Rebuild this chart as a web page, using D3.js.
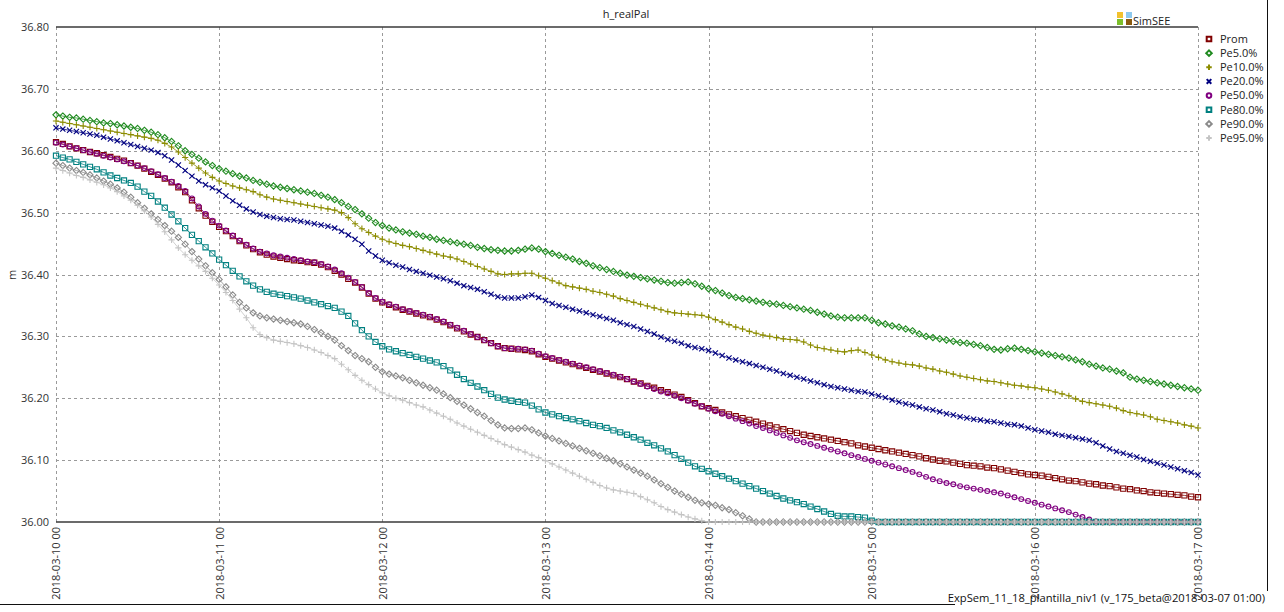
<!DOCTYPE html>
<html><head><meta charset="utf-8">
<script src="https://cdn.jsdelivr.net/npm/d3@7"></script>
<style>
body{margin:0;background:#fff;}
svg{display:block;font-family:"Open Sans","Liberation Sans",sans-serif;}
</style>
</head><body><svg id="c" width="1284" height="612"></svg>
<script>
const chartTitle = "h_realPal";
const yAxisLabel = "m";
const footerText = "ExpSem_11_18_plantilla_niv1 (v_175_beta@2018-03-07 01:00)";
const logoText = "SimSEE";
const startTime = "2018-03-10 00";
const xTickLabels = ["2018-03-10 00","2018-03-11 00","2018-03-12 00","2018-03-13 00","2018-03-14 00","2018-03-15 00","2018-03-16 00","2018-03-17 00"];
const yTickValues = [36.00,36.10,36.20,36.30,36.40,36.50,36.60,36.70,36.80];
const seriesNames = ["Prom","Pe5.0%","Pe10.0%","Pe20.0%","Pe50.0%","Pe80.0%","Pe90.0%","Pe95.0%"];
const seriesColors = ["#800000","#1f8a1f","#8c8c00","#000080","#800080","#008080","#8a8a8a","#c4c4c4"];
const seriesMarkers = ["square","diamond","plus","x","circle","square","diamond","plus"];

// hourly values (m), 2018-03-10 00 .. 2018-03-17 00
const prom = [
36.614,36.611,36.607,36.604,36.601,36.598,36.596,36.593,36.590,36.587,
36.584,36.580,36.576,36.571,36.566,36.561,36.555,36.549,36.541,36.533,
36.520,36.507,36.495,36.485,36.477,36.470,36.462,36.454,36.447,36.441,
36.436,36.432,36.429,36.427,36.425,36.423,36.422,36.420,36.419,36.416,
36.412,36.406,36.400,36.393,36.387,36.379,36.369,36.361,36.355,36.351,
36.347,36.343,36.340,36.337,36.334,36.331,36.327,36.323,36.318,36.313,
36.308,36.303,36.299,36.294,36.289,36.284,36.281,36.280,36.279,36.278,
36.276,36.271,36.267,36.264,36.261,36.258,36.255,36.252,36.249,36.246,
36.243,36.240,36.237,36.234,36.231,36.227,36.224,36.220,36.217,36.213,
36.210,36.206,36.202,36.197,36.192,36.187,36.184,36.181,36.177,36.174,
36.171,36.168,36.165,36.162,36.159,36.156,36.153,36.150,36.147,36.144,
36.141,36.139,36.137,36.135,36.133,36.131,36.129,36.127,36.124,36.122,
36.120,36.118,36.116,36.114,36.112,36.110,36.108,36.106,36.103,36.101,
36.099,36.098,36.096,36.094,36.092,36.091,36.090,36.088,36.087,36.085,
36.083,36.081,36.079,36.077,36.076,36.075,36.073,36.071,36.069,36.067,
36.066,36.064,36.062,36.061,36.059,36.058,36.056,36.054,36.053,36.051,
36.050,36.048,36.047,36.046,36.045,36.044,36.043,36.041,36.040];
const pe5 = [
36.658,36.656,36.654,36.653,36.651,36.649,36.647,36.645,36.644,36.642,
36.640,36.638,36.636,36.633,36.630,36.626,36.621,36.615,36.608,36.600,
36.594,36.588,36.582,36.576,36.571,36.567,36.563,36.559,36.556,36.552,
36.549,36.546,36.543,36.541,36.539,36.537,36.535,36.533,36.531,36.528,
36.525,36.521,36.516,36.510,36.505,36.498,36.491,36.484,36.479,36.475,
36.472,36.469,36.467,36.465,36.462,36.460,36.457,36.455,36.453,36.451,
36.449,36.447,36.444,36.442,36.440,36.439,36.438,36.438,36.439,36.441,
36.443,36.441,36.437,36.434,36.431,36.428,36.425,36.421,36.418,36.414,
36.411,36.408,36.405,36.402,36.399,36.397,36.395,36.393,36.391,36.389,
36.387,36.386,36.387,36.388,36.385,36.381,36.377,36.374,36.370,36.366,
36.363,36.361,36.359,36.357,36.355,36.353,36.352,36.350,36.348,36.346,
36.344,36.342,36.339,36.336,36.333,36.331,36.330,36.330,36.330,36.330,
36.326,36.322,36.320,36.317,36.315,36.312,36.309,36.304,36.300,36.298,
36.296,36.294,36.292,36.290,36.289,36.287,36.285,36.282,36.279,36.278,
36.280,36.281,36.279,36.277,36.275,36.273,36.271,36.269,36.267,36.265,
36.262,36.259,36.255,36.252,36.249,36.247,36.244,36.241,36.234,36.231,
36.229,36.227,36.225,36.223,36.221,36.219,36.217,36.215,36.213];
const pe10 = [
36.648,36.646,36.644,36.642,36.640,36.638,36.636,36.634,36.632,36.630,
36.628,36.626,36.624,36.622,36.620,36.617,36.612,36.606,36.598,36.589,
36.580,36.572,36.564,36.557,36.551,36.547,36.543,36.540,36.537,36.534,
36.529,36.525,36.522,36.520,36.518,36.516,36.514,36.512,36.510,36.508,
36.506,36.504,36.500,36.492,36.482,36.474,36.468,36.462,36.457,36.453,
36.450,36.447,36.445,36.442,36.439,36.436,36.433,36.430,36.428,36.425,
36.421,36.417,36.413,36.409,36.405,36.401,36.400,36.401,36.401,36.402,
36.402,36.398,36.394,36.390,36.386,36.382,36.380,36.378,36.376,36.373,
36.371,36.368,36.365,36.361,36.358,36.355,36.352,36.349,36.346,36.343,
36.340,36.338,36.337,36.336,36.335,36.334,36.331,36.327,36.323,36.319,
36.315,36.312,36.308,36.305,36.302,36.300,36.298,36.296,36.295,36.294,
36.291,36.286,36.282,36.280,36.278,36.276,36.275,36.277,36.278,36.274,
36.270,36.266,36.262,36.259,36.257,36.255,36.254,36.252,36.249,36.247,
36.244,36.242,36.239,36.236,36.234,36.232,36.230,36.228,36.227,36.225,
36.223,36.221,36.220,36.218,36.217,36.215,36.213,36.210,36.207,36.204,
36.199,36.195,36.193,36.191,36.189,36.187,36.184,36.180,36.177,36.175,
36.173,36.170,36.166,36.164,36.162,36.160,36.157,36.155,36.152];
const pe20 = [
36.637,36.635,36.633,36.631,36.629,36.627,36.625,36.622,36.619,36.616,
36.613,36.610,36.607,36.604,36.601,36.597,36.592,36.585,36.577,36.568,
36.559,36.551,36.545,36.540,36.535,36.527,36.519,36.512,36.506,36.501,
36.497,36.494,36.492,36.490,36.489,36.488,36.486,36.484,36.482,36.480,
36.478,36.475,36.470,36.464,36.457,36.449,36.438,36.430,36.423,36.419,
36.415,36.412,36.408,36.405,36.402,36.399,36.396,36.393,36.390,36.386,
36.382,36.379,36.376,36.372,36.368,36.364,36.362,36.362,36.362,36.364,
36.367,36.363,36.358,36.353,36.350,36.347,36.344,36.341,36.338,36.335,
36.332,36.329,36.326,36.322,36.319,36.316,36.312,36.308,36.304,36.299,
36.295,36.292,36.289,36.285,36.282,36.280,36.277,36.273,36.269,36.265,
36.262,36.259,36.256,36.253,36.250,36.247,36.244,36.240,36.237,36.234,
36.231,36.228,36.225,36.222,36.219,36.217,36.215,36.213,36.211,36.210,
36.207,36.204,36.201,36.197,36.194,36.191,36.189,36.186,36.183,36.181,
36.178,36.175,36.173,36.170,36.168,36.166,36.165,36.163,36.162,36.160,
36.158,36.157,36.155,36.152,36.149,36.147,36.145,36.142,36.140,36.138,
36.136,36.134,36.132,36.128,36.123,36.118,36.114,36.111,36.108,36.105,
36.101,36.098,36.095,36.092,36.089,36.086,36.083,36.080,36.076];
const pe50 = [
36.613,36.610,36.607,36.604,36.601,36.598,36.595,36.592,36.589,36.586,
36.583,36.580,36.576,36.572,36.567,36.562,36.556,36.550,36.543,36.535,
36.523,36.510,36.498,36.487,36.479,36.471,36.463,36.455,36.448,36.442,
36.437,36.434,36.431,36.429,36.427,36.425,36.423,36.421,36.420,36.417,
36.413,36.408,36.402,36.395,36.388,36.380,36.370,36.362,36.356,36.352,
36.348,36.344,36.341,36.338,36.335,36.332,36.328,36.324,36.319,36.314,
36.309,36.304,36.299,36.294,36.289,36.284,36.281,36.280,36.280,36.279,
36.277,36.272,36.268,36.265,36.262,36.259,36.256,36.253,36.250,36.247,
36.244,36.241,36.238,36.235,36.231,36.227,36.223,36.219,36.215,36.211,
36.208,36.204,36.200,36.196,36.191,36.187,36.183,36.179,36.175,36.171,
36.167,36.163,36.159,36.155,36.152,36.148,36.144,36.140,36.136,36.132,
36.129,36.126,36.123,36.120,36.117,36.114,36.111,36.108,36.105,36.102,
36.099,36.096,36.093,36.090,36.087,36.084,36.081,36.077,36.073,36.069,
36.066,36.063,36.061,36.058,36.056,36.054,36.052,36.050,36.048,36.046,
36.043,36.040,36.037,36.034,36.031,36.028,36.025,36.022,36.019,36.016,
36.012,36.008,36.004,36.001,36,36,36,36,36,36,
36,36,36,36,36,36,36,36,36];
const pe80 = [
36.592,36.589,36.586,36.582,36.578,36.574,36.570,36.565,36.560,36.556,
36.552,36.548,36.542,36.534,36.527,36.518,36.508,36.497,36.486,36.475,
36.464,36.454,36.444,36.434,36.424,36.415,36.406,36.397,36.389,36.382,
36.376,36.372,36.369,36.367,36.365,36.363,36.361,36.358,36.355,36.352,
36.349,36.346,36.340,36.333,36.321,36.310,36.300,36.291,36.284,36.279,
36.276,36.273,36.270,36.267,36.264,36.261,36.258,36.252,36.245,36.238,
36.231,36.225,36.219,36.213,36.207,36.201,36.198,36.196,36.194,36.193,
36.188,36.182,36.177,36.174,36.171,36.168,36.166,36.163,36.160,36.157,
36.155,36.152,36.148,36.145,36.141,36.137,36.133,36.128,36.124,36.119,
36.114,36.108,36.102,36.096,36.090,36.086,36.082,36.078,36.074,36.070,
36.066,36.062,36.058,36.054,36.050,36.046,36.042,36.038,36.035,36.032,
36.029,36.025,36.021,36.017,36.013,36.010,36.009,36.009,36.008,36.007,
36.002,36,36,36,36,36,36,36,36,36,
36,36,36,36,36,36,36,36,36,36,
36,36,36,36,36,36,36,36,36,36,
36,36,36,36,36,36,36,36,36,36,
36,36,36,36,36,36,36,36,36];
const pe90 = [
36.580,36.576,36.572,36.568,36.565,36.561,36.556,36.551,36.546,36.540,
36.533,36.525,36.516,36.507,36.498,36.489,36.479,36.470,36.460,36.449,
36.437,36.425,36.414,36.403,36.392,36.380,36.367,36.355,36.346,36.338,
36.333,36.330,36.328,36.326,36.324,36.322,36.320,36.316,36.311,36.306,
36.300,36.294,36.285,36.277,36.269,36.264,36.259,36.250,36.243,36.239,
36.236,36.233,36.229,36.225,36.221,36.217,36.213,36.207,36.201,36.195,
36.189,36.183,36.177,36.171,36.164,36.157,36.152,36.151,36.151,36.152,
36.149,36.144,36.139,36.135,36.131,36.127,36.123,36.119,36.115,36.111,
36.107,36.103,36.099,36.094,36.089,36.084,36.079,36.074,36.068,36.062,
36.056,36.050,36.045,36.040,36.035,36.031,36.029,36.027,36.023,36.020,
36.015,36.010,36.005,36,36,36,36,36,36,36,
36,36,36,36,36,36,36,36,36,36,
36,36,36,36,36,36,36,36,36,36,
36,36,36,36,36,36,36,36,36,36,
36,36,36,36,36,36,36,36,36,36,
36,36,36,36,36,36,36,36,36,36,
36,36,36,36,36,36,36,36,36];
const pe95 = [
36.572,36.568,36.564,36.560,36.557,36.553,36.549,36.545,36.540,36.534,
36.527,36.520,36.512,36.503,36.493,36.481,36.469,36.456,36.443,36.432,
36.423,36.414,36.405,36.394,36.383,36.371,36.358,36.344,36.330,36.314,
36.303,36.298,36.294,36.292,36.290,36.288,36.285,36.282,36.278,36.274,
36.269,36.264,36.255,36.246,36.237,36.229,36.222,36.215,36.209,36.204,
36.200,36.197,36.193,36.189,36.186,36.181,36.176,36.171,36.166,36.160,
36.155,36.150,36.145,36.140,36.135,36.130,36.125,36.121,36.117,36.113,
36.108,36.104,36.099,36.094,36.089,36.084,36.079,36.074,36.069,36.064,
36.059,36.055,36.052,36.050,36.048,36.046,36.041,36.036,36.031,36.025,
36.020,36.016,36.012,36.008,36.005,36.002,36,36,36,36,
36,36,36,36,36,36,36,36,36,36,
36,36,36,36,36,36,36,36,36,36,
36,36,36,36,36,36,36,36,36,36,
36,36,36,36,36,36,36,36,36,36,
36,36,36,36,36,36,36,36,36,36,
36,36,36,36,36,36,36,36,36,36,
36,36,36,36,36,36,36,36,36];
const seriesValues = [prom, pe5, pe10, pe20, pe50, pe80, pe90, pe95];

// ---------- drawing ----------
const parseT = d3.timeParse("%Y-%m-%d %H");
const t0 = parseT(startTime);
const xTickDates = xTickLabels.map(parseT);
const svg = d3.select("#c");
const x = d3.scaleTime().domain([xTickDates[0], xTickDates[xTickDates.length-1]]).range([56, 1198]);
const y = d3.scaleLinear().domain([36.0, 36.8]).range([522, 27]);
const timeOf = i => d3.timeHour.offset(t0, i);

// grid
const grid = svg.append("g").attr("stroke", "#9a9a9a").attr("stroke-width", 1).attr("stroke-dasharray", "3,3");
grid.selectAll("line.h").data(yTickValues.slice(1, -1)).join("line")
  .attr("x1", 56).attr("x2", 1198)
  .attr("y1", d => Math.round(y(d)) + 0.5).attr("y2", d => Math.round(y(d)) + 0.5);
grid.selectAll("line.v").data(xTickDates).join("line")
  .attr("x1", d => Math.round(x(d)) + 0.5).attr("x2", d => Math.round(x(d)) + 0.5)
  .attr("y1", 27).attr("y2", 522);

// top / bottom frame
svg.append("line").attr("x1", 56).attr("x2", 1198).attr("y1", y(36.8)).attr("y2", y(36.8))
  .attr("stroke", "#3a3a3a").attr("stroke-width", 1.5);
svg.append("line").attr("x1", 56).attr("x2", 1198).attr("y1", y(36.0)).attr("y2", y(36.0))
  .attr("stroke", "#3a3a3a").attr("stroke-width", 1.5);

// y axis labels
const yAxis = d3.axisLeft(y).tickValues(yTickValues).tickFormat(d3.format(".2f")).tickSize(0).tickPadding(7);
const gy = svg.append("g").attr("transform", "translate(56,0)").call(yAxis);
gy.select(".domain").remove();
gy.selectAll("text").attr("font-size", 11).attr("fill", "#333").attr("font-family", "Open Sans");

// x axis labels
const xAxis = d3.axisBottom(x).tickValues(xTickDates).tickFormat((d, i) => xTickLabels[i]).tickSize(0);
const gx = svg.append("g").attr("transform", "translate(0,522)").call(xAxis);
gx.select(".domain").remove();
gx.selectAll("text").attr("font-size", 11).attr("fill", "#333").attr("font-family", "Open Sans")
  .attr("text-anchor", "end").attr("transform", "translate(0,5) rotate(-90)")
  .attr("x", 0).attr("y", 0).attr("dy", "0.35em");

// axis title
svg.append("text").attr("transform", "translate(16,275) rotate(-90)").attr("text-anchor", "middle")
  .attr("font-size", 11).attr("fill", "#333").text(yAxisLabel);

// title
svg.append("text").attr("x", 626).attr("y", 18).attr("text-anchor", "middle")
  .attr("font-size", 11).attr("fill", "#222").text(chartTitle);

// markers
function markerPath(type, s) {
  switch (type) {
    case "square": return `M${-s},${-s}h${2*s}v${2*s}h${-2*s}Z`;
    case "diamond": return `M0,${-s*1.2}L${s*1.2},0L0,${s*1.2}L${-s*1.2},0Z`;
    case "plus": return `M${-s*1.2},0H${s*1.2}M0,${-s*1.2}V${s*1.2}`;
    case "x": return `M${-s},${-s}L${s},${s}M${-s},${s}L${s},${-s}`;
    case "circle": return `M${s},0A${s},${s} 0 1,1 ${-s},0A${s},${s} 0 1,1 ${s},0Z`;
  }
}

const line = d3.line().x((d, i) => x(timeOf(i))).y(d => y(d));
seriesValues.forEach((vals, k) => {
  const g = svg.append("g");
  g.append("path").attr("d", line(vals)).attr("fill", "none")
    .attr("stroke", seriesColors[k]).attr("stroke-width", 1).attr("opacity", 0.8);
  const s = seriesMarkers[k] === "circle" ? 2.4 : 2.6;
  g.selectAll("path.m").data(vals).join("path").attr("class", "m")
    .attr("transform", (d, i) => `translate(${x(timeOf(i))},${y(d)})`)
    .attr("d", markerPath(seriesMarkers[k], s))
    .attr("fill", "none").attr("stroke", seriesColors[k]).attr("stroke-width", 1.1);
});

// legend
const lg = svg.append("g");
seriesNames.forEach((name, k) => {
  const cy = 39 + k * 14.15;
  lg.append("path").attr("transform", `translate(1209,${cy})`)
    .attr("d", markerPath(seriesMarkers[k], 2.3))
    .attr("fill", "none").attr("stroke", seriesColors[k]).attr("stroke-width", 2);
  lg.append("text").attr("x", 1220).attr("y", cy).attr("dy", "0.35em")
    .attr("font-size", 11).attr("fill", "#222").text(name);
});

// SimSEE logo
const logo = [["#f2c12e", 1117, 12], ["#8ec9ee", 1126, 12], ["#7cbf2a", 1117, 19], ["#8a5a10", 1126, 19]];
logo.forEach(([c, lx, ly]) => svg.append("rect").attr("x", lx).attr("y", ly).attr("width", 6).attr("height", 6).attr("fill", c));
svg.append("text").attr("x", 1133).attr("y", 25).attr("font-size", 11).attr("fill", "#222").text(logoText);

// outer frame lines
svg.append("line").attr("x1", 1267.5).attr("x2", 1267.5).attr("y1", 0).attr("y2", 591).attr("stroke", "#111").attr("stroke-width", 1);
svg.append("line").attr("x1", 0).attr("x2", 955).attr("y1", 604.5).attr("y2", 604.5).attr("stroke", "#111").attr("stroke-width", 1);

// footer
svg.append("text").attr("x", 1265).attr("y", 602).attr("text-anchor", "end")
  .attr("font-size", 11.2).attr("fill", "#111").text(footerText);
</script>
</body></html>
